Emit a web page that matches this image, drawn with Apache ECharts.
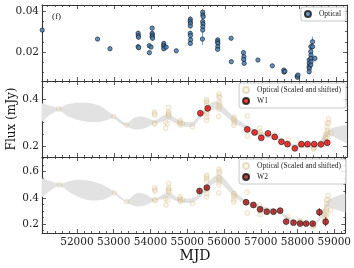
<!DOCTYPE html>
<html><head><meta charset="utf-8">
<script src="https://cdn.jsdelivr.net/npm/echarts@6/dist/echarts.min.js"></script>
<style>html,body{margin:0;padding:0;background:#fff}#c{width:354px;height:268px}</style>
</head><body><div id="c"></div>
<script>
// ---------- tick labels ----------
const xMajorTicks = [52000, 53000, 54000, 55000, 56000, 57000, 58000, 59000];
const xMinorTicks = [51200, 51400, 51600, 51800, 52200, 52400, 52600, 52800, 53200, 53400, 53600, 53800,
  54200, 54400, 54600, 54800, 55200, 55400, 55600, 55800, 56200, 56400, 56600, 56800,
  57200, 57400, 57600, 57800, 58200, 58400, 58600, 58800, 59200];
const yTopMajor = [0.02, 0.04];
const yTopMinor = [0.01, 0.015, 0.025, 0.03, 0.035];
const yMidMajor = [0.2, 0.4];
const yMidMinor = [0.25, 0.3, 0.35, 0.45];
const yBotMajor = [0.2, 0.4, 0.6];
const yBotMinor = [0.15, 0.25, 0.3, 0.35, 0.45, 0.5, 0.55, 0.65, 0.7];

// ---------- top panel: optical ----------
const opticalMjd = [51055, 52552, 52889, 53650, 53655, 53660, 53650, 53665, 53950, 53955, 54000,
  54030, 54030, 54035, 54030, 54040, 54345, 54340, 54350, 54345, 54410, 54682,
  55062, 55060, 55065, 55062, 55060, 55065, 55070, 55062,
  55397, 55400, 55410, 55397, 55405, 55400, 55397, 55390,
  55804, 55800, 55808, 55804, 55800, 56166, 56170, 56500, 56511, 56505, 56520,
  56891, 57280, 57590, 57598, 57620, 57955, 57960, 57975,
  58277, 58280, 58275, 58280, 58277, 58323, 58320, 58325, 58323, 58328, 58320, 58367, 58370, 58432];
const opticalFlux = [0.0307, 0.0263, 0.0216, 0.0291, 0.0280, 0.0272, 0.0226, 0.0221, 0.0231, 0.0197, 0.0224,
  0.0316, 0.0291, 0.0283, 0.0275, 0.0267, 0.0242, 0.0232, 0.0224, 0.0216, 0.0224, 0.0206,
  0.0360, 0.0350, 0.0340, 0.0327, 0.0291, 0.0280, 0.0259, 0.0242,
  0.0394, 0.0380, 0.0372, 0.0348, 0.0337, 0.0323, 0.0307, 0.0263,
  0.0259, 0.0250, 0.0242, 0.0226, 0.0213, 0.0267, 0.0153, 0.0197, 0.0177, 0.0164, 0.0145,
  0.0161, 0.0133, 0.0112, 0.0102, 0.0106, 0.0083, 0.0077, 0.0088,
  0.0161, 0.0145, 0.0128, 0.0120, 0.0104, 0.0226, 0.0202, 0.0185, 0.0169, 0.0153, 0.0137, 0.0250, 0.0226, 0.0169];
const opticalErr = [0.0008, 0.0008, 0.0008, 0.0015, 0.0012, 0.0010, 0.0012, 0.0010, 0.0010, 0.0010, 0.0008,
  0.0012, 0.0010, 0.0010, 0.0010, 0.0010, 0.0010, 0.0010, 0.0010, 0.0010, 0.0008, 0.0008,
  0.0015, 0.0012, 0.0012, 0.0012, 0.0012, 0.0012, 0.0012, 0.0012,
  0.0015, 0.0015, 0.0012, 0.0015, 0.0012, 0.0012, 0.0015, 0.0030,
  0.0010, 0.0010, 0.0010, 0.0010, 0.0010, 0.0008, 0.0008, 0.0012, 0.0010, 0.0010, 0.0010,
  0.0008, 0.0008, 0.0008, 0.0008, 0.0008, 0.0008, 0.0008, 0.0008,
  0.0012, 0.0012, 0.0012, 0.0012, 0.0012, 0.0015, 0.0015, 0.0015, 0.0015, 0.0015, 0.0015, 0.0025, 0.0015, 0.0015];

// ---------- middle panel: optical scaled & shifted + W1 ----------
const optW1Mjd = [51500, 52992, 53329, 54090, 54095, 54100, 54090, 54105, 54390, 54395, 54440,
  54470, 54470, 54475, 54470, 54480, 54785, 54780, 54790, 54785, 54850, 55122,
  55502, 55500, 55505, 55502, 55500, 55505, 55510, 55502,
  55837, 55840, 55850, 55837, 55845, 55840, 55837, 55830,
  56244, 56240, 56248, 56244, 56240, 56606, 56610, 56940, 56951, 56945, 56960,
  57331, 57720, 58030, 58038, 58060, 58395, 58400, 58415,
  58717, 58720, 58715, 58720, 58717, 58763, 58760, 58765, 58763, 58768, 58760, 58807, 58810, 58872];
const optW1Flux = [0.357, 0.325, 0.289, 0.345, 0.337, 0.331, 0.297, 0.293, 0.301, 0.275, 0.295,
  0.364, 0.345, 0.339, 0.333, 0.327, 0.309, 0.301, 0.295, 0.289, 0.295, 0.282,
  0.397, 0.390, 0.382, 0.372, 0.345, 0.337, 0.322, 0.309,
  0.422, 0.412, 0.406, 0.388, 0.380, 0.369, 0.357, 0.325,
  0.322, 0.315, 0.309, 0.297, 0.287, 0.327, 0.242, 0.275, 0.260, 0.251, 0.236,
  0.248, 0.227, 0.212, 0.204, 0.207, 0.190, 0.186, 0.194,
  0.248, 0.236, 0.224, 0.218, 0.206, 0.297, 0.279, 0.266, 0.254, 0.242, 0.230, 0.315, 0.297, 0.254];
const w1Mjd = [55334, 55533, 56601, 56800, 56982, 57163, 57345, 57527, 57690, 57890, 58070, 58234, 58413, 58595, 58766];
const w1Flux = [0.339, 0.360, 0.270, 0.257, 0.234, 0.253, 0.238, 0.217, 0.207, 0.189, 0.207, 0.207, 0.207, 0.206, 0.213];
const w1Err = [0.006, 0.006, 0.005, 0.005, 0.005, 0.005, 0.005, 0.005, 0.005, 0.005, 0.005, 0.005, 0.005, 0.006, 0.008];
const bandW1Mjd = [51050, 51250, 51500, 51800, 52200, 52600, 52850, 52992, 53150, 53329, 53550, 53800, 54000, 54100,
  54250, 54450, 54650, 54800, 55000, 55150, 55350, 55550, 55700, 55850, 56000, 56250, 56450, 56650, 56850,
  57050, 57250, 57450, 57650, 57850, 58050, 58250, 58450, 58650, 58800, 58950, 59100, 59300];
const bandW1Lo = [0.303, 0.330, 0.350, 0.322, 0.305, 0.302, 0.312, 0.319, 0.297, 0.283, 0.270, 0.274, 0.288, 0.296,
  0.300, 0.312, 0.296, 0.288, 0.280, 0.284, 0.322, 0.345, 0.355, 0.350, 0.330, 0.296, 0.280, 0.260, 0.245,
  0.236, 0.230, 0.222, 0.205, 0.192, 0.190, 0.190, 0.190, 0.215, 0.245, 0.238, 0.225, 0.210];
const bandW1Hi = [0.382, 0.372, 0.364, 0.380, 0.384, 0.372, 0.345, 0.330, 0.314, 0.295, 0.320, 0.324, 0.312, 0.308,
  0.322, 0.335, 0.320, 0.305, 0.302, 0.305, 0.342, 0.372, 0.388, 0.384, 0.362, 0.322, 0.302, 0.282, 0.265,
  0.256, 0.250, 0.240, 0.222, 0.208, 0.205, 0.205, 0.206, 0.240, 0.268, 0.278, 0.284, 0.290];

// ---------- bottom panel: optical scaled & shifted + W2 ----------
const optW2Mjd = [51525, 53017, 53354, 54115, 54120, 54125, 54115, 54130, 54415, 54420, 54465,
  54495, 54495, 54500, 54495, 54505, 54810, 54805, 54815, 54810, 54875, 55147,
  55527, 55525, 55530, 55527, 55525, 55530, 55535, 55527,
  55862, 55865, 55875, 55862, 55870, 55865, 55862, 55855,
  56269, 56265, 56273, 56269, 56265, 56631, 56635, 56965, 56976, 56970, 56985,
  57356, 57745, 58055, 58063, 58085, 58420, 58425, 58440,
  58742, 58745, 58740, 58745, 58742, 58788, 58785, 58790, 58788, 58793, 58785, 58832, 58835, 58897];
const optW2Flux = [0.499, 0.437, 0.372, 0.476, 0.461, 0.450, 0.386, 0.379, 0.393, 0.345, 0.383,
  0.511, 0.476, 0.465, 0.454, 0.443, 0.408, 0.394, 0.383, 0.372, 0.383, 0.358,
  0.573, 0.559, 0.545, 0.527, 0.476, 0.461, 0.432, 0.408,
  0.620, 0.601, 0.589, 0.556, 0.541, 0.521, 0.499, 0.437,
  0.432, 0.419, 0.408, 0.386, 0.367, 0.443, 0.284, 0.345, 0.317, 0.299, 0.272,
  0.295, 0.256, 0.226, 0.212, 0.218, 0.186, 0.178, 0.193,
  0.295, 0.272, 0.249, 0.238, 0.215, 0.386, 0.352, 0.328, 0.306, 0.284, 0.261, 0.419, 0.386, 0.306];
const w2Mjd = [55334, 55533, 56601, 56800, 56982, 57163, 57345, 57527, 57690, 57890, 58070, 58234, 58413, 58595, 58766];
const w2Flux = [0.452, 0.478, 0.366, 0.345, 0.312, 0.294, 0.294, 0.302, 0.218, 0.210, 0.203, 0.203, 0.203, 0.290, 0.217];
const w2Err = [0.012, 0.012, 0.010, 0.010, 0.010, 0.010, 0.010, 0.010, 0.010, 0.010, 0.010, 0.012, 0.012, 0.030, 0.035];
const bandW2Mjd = [51050, 51250, 51525, 51900, 52300, 52700, 52900, 53017, 53180, 53354, 53600, 53850, 54000, 54115,
  54300, 54480, 54650, 54810, 55000, 55150, 55350, 55550, 55700, 55870, 56050, 56250, 56450, 56650, 56850,
  57050, 57250, 57450, 57650, 57850, 58050, 58250, 58450, 58650, 58800, 58950, 59100, 59300];
const bandW2Lo = [0.404, 0.450, 0.489, 0.425, 0.383, 0.385, 0.410, 0.428, 0.392, 0.363, 0.336, 0.341, 0.362, 0.378,
  0.388, 0.405, 0.382, 0.368, 0.360, 0.365, 0.405, 0.460, 0.505, 0.520, 0.475, 0.415, 0.375, 0.350, 0.328,
  0.310, 0.298, 0.288, 0.250, 0.215, 0.200, 0.192, 0.190, 0.245, 0.330, 0.320, 0.305, 0.285];
const bandW2Hi = [0.549, 0.530, 0.509, 0.535, 0.532, 0.500, 0.468, 0.446, 0.412, 0.381, 0.432, 0.429, 0.405, 0.392,
  0.420, 0.440, 0.418, 0.390, 0.395, 0.398, 0.445, 0.510, 0.555, 0.578, 0.535, 0.465, 0.410, 0.378, 0.352,
  0.335, 0.322, 0.310, 0.275, 0.238, 0.222, 0.212, 0.210, 0.280, 0.370, 0.400, 0.415, 0.435];

// ---------- layout / style ----------
const X_MIN = 51050, X_MAX = 59300;
const FONT = 'DejaVu Serif';
const AX = '#333';
const GRID_TOPS = [5, 81, 157];
const Y_RANGES = [[0.0059, 0.0429], [0.152, 0.477], [0.131, 0.712]];
const Y_TICKS = [[yTopMajor, yTopMinor], [yMidMajor, yMidMinor], [yBotMajor, yBotMinor]];

const grids = GRID_TOPS.map(t => ({left: 42, width: 305, top: t, height: 76, containLabel: false}));

const xAxes = [], yAxes = [];
GRID_TOPS.forEach((t, g) => {
  [['bottom', true], ['bottom', false], ['top', true], ['top', false]].forEach(([pos, major], k) => {
    xAxes.push({
      type: 'value', gridIndex: g, position: pos, min: X_MIN, max: X_MAX,
      axisLine: {show: major, onZero: false, lineStyle: {color: AX, width: 1.1}},
      axisTick: {show: true, inside: true, length: major ? 4 : 2, lineStyle: {color: AX, width: 0.8},
        customValues: major ? xMajorTicks : xMinorTicks},
      axisLabel: {show: g === 2 && k === 0, customValues: xMajorTicks, margin: 4, color: '#222',
        fontFamily: FONT, fontSize: 10.5, formatter: v => String(v)},
      splitLine: {show: false}
    });
  });
  [['left', true], ['left', false], ['right', true], ['right', false]].forEach(([pos, major], k) => {
    yAxes.push({
      type: 'value', gridIndex: g, position: pos, min: Y_RANGES[g][0], max: Y_RANGES[g][1],
      axisLine: {show: major, onZero: false, lineStyle: {color: AX, width: 1.1}},
      axisTick: {show: true, inside: true, length: major ? 4 : 2, lineStyle: {color: AX, width: 0.8},
        customValues: major ? Y_TICKS[g][0] : Y_TICKS[g][1]},
      axisLabel: {show: k === 0, customValues: Y_TICKS[g][0], margin: 3, color: '#222',
        fontFamily: FONT, fontSize: 10.5},
      splitLine: {show: false}
    });
  });
});

function errBars(g, mjd, val, err, color, width, z) {
  return {
    type: 'custom', name: '_err' + g + color, xAxisIndex: g * 4, yAxisIndex: g * 4, z: z, silent: true,
    data: mjd.map((m, i) => [m, val[i] - err[i], val[i] + err[i]]),
    encode: {x: 0, y: [1, 2]},
    renderItem(params, api) {
      const p1 = api.coord([api.value(0), api.value(1)]);
      const p2 = api.coord([api.value(0), api.value(2)]);
      return {type: 'line', shape: {x1: p1[0], y1: p1[1], x2: p2[0], y2: p2[1]},
        style: {stroke: color, lineWidth: width}};
    }
  };
}
function band(g, mjd, lo, hi) {
  return {
    type: 'custom', name: '_band' + g, xAxisIndex: g * 4, yAxisIndex: g * 4, z: 1, silent: true,
    data: mjd.map((m, i) => [m, lo[i], hi[i]]),
    encode: {x: 0, y: [1, 2]},
    renderItem(params, api) {
      if (params.dataIndex !== 0) return null;
      const up = mjd.map((m, i) => api.coord([m, hi[i]]));
      const dn = mjd.map((m, i) => api.coord([m, lo[i]])).reverse();
      const pts = [up[0]].concat(up, [up[up.length - 1]], [dn[0]], dn, [dn[dn.length - 1]]);
      return {type: 'polygon', shape: {points: pts, smooth: 0.35},
        style: {fill: '#e2e2e2', stroke: 'none'}};
    }
  };
}
function scatter(g, name, mjd, val, size, color, border, z) {
  return {type: 'scatter', name: name, xAxisIndex: g * 4, yAxisIndex: g * 4, symbol: 'circle',
    symbolSize: size, z: z, silent: true,
    itemStyle: {color: color, borderColor: border, borderWidth: 0.8},
    data: mjd.map((m, i) => [m, val[i]])};
}
const OPT_FILL = 'rgba(238,220,180,0.28)', OPT_EDGE = 'rgba(200,168,110,0.45)';

const series = [
  errBars(0, opticalMjd, opticalFlux, opticalErr, 'rgba(90,160,220,0.9)', 1, 2),
  scatter(0, 'Optical', opticalMjd, opticalFlux, 4.3, '#4682bd', '#111', 3),
  band(1, bandW1Mjd, bandW1Lo, bandW1Hi),
  scatter(1, 'Optical (Scaled and shifted)', optW1Mjd, optW1Flux, 4.8, OPT_FILL, OPT_EDGE, 2),
  errBars(1, w1Mjd, w1Flux, w1Err, '#d01010', 1, 3),
  scatter(1, 'W1', w1Mjd, w1Flux, 5.8, '#f01010', '#111', 4),
  band(2, bandW2Mjd, bandW2Lo, bandW2Hi),
  scatter(2, 'Optical (Scaled and shifted)', optW2Mjd, optW2Flux, 4.8, OPT_FILL, OPT_EDGE, 2),
  errBars(2, w2Mjd, w2Flux, w2Err, '#c01010', 1, 3),
  scatter(2, 'W2', w2Mjd, w2Flux, 5.8, '#a8181a', '#111', 4)
];

const legendBase = {orient: 'vertical', right: 8, selectedMode: false, backgroundColor: 'rgba(255,255,255,0.85)',
  borderColor: '#c8c8c8', borderWidth: 1, borderRadius: 2, padding: [3, 5, 3, 3], itemGap: 3,
  itemWidth: 12, itemHeight: 6, icon: 'circle',
  textStyle: {fontFamily: 'Liberation Serif', fontSize: 7.5, color: '#222'}};

const option = {
  animation: false,
  backgroundColor: '#fff',
  grid: grids,
  xAxis: xAxes,
  yAxis: yAxes,
  legend: [
    Object.assign({}, legendBase, {top: 7, data: ['Optical']}),
    Object.assign({}, legendBase, {top: 83, data: ['Optical (Scaled and shifted)', 'W1']}),
    Object.assign({}, legendBase, {top: 159, data: ['Optical (Scaled and shifted)', 'W2']})
  ],
  graphic: [
    {type: 'text', left: 52, top: 12, style: {text: '(f)', fontFamily: 'Liberation Serif', fontSize: 9, fill: '#222'}},
    {type: 'text', x: 195, y: 256, style: {text: 'MJD', fontFamily: FONT, fontSize: 14, fill: '#111',
      align: 'center', verticalAlign: 'middle'}},
    {type: 'text', x: 12, y: 119, rotation: Math.PI / 2, style: {text: 'Flux (mJy)', fontFamily: FONT,
      fontSize: 12, fill: '#111', align: 'center', verticalAlign: 'middle'}}
  ],
  series: series
};
const chart = echarts.init(document.getElementById('c'), null, {renderer: 'canvas'});
chart.setOption(option);
</script>
</body></html>
